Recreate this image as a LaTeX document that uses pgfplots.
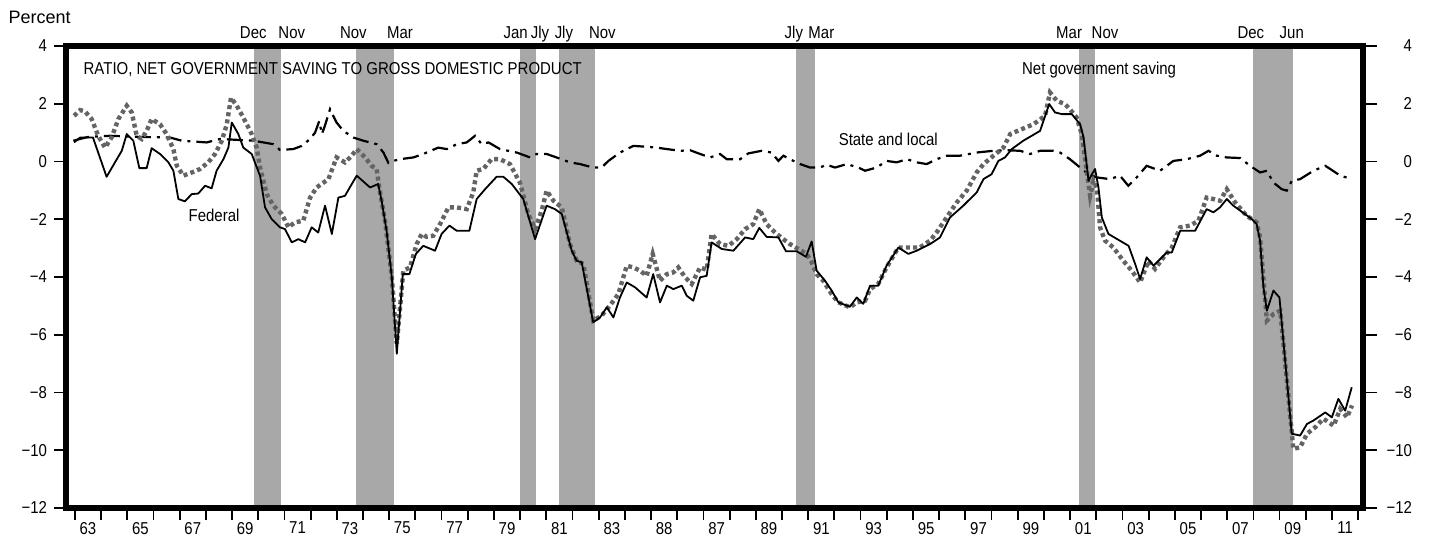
\documentclass[border=0pt]{standalone}
\usepackage{fontspec}
\setmainfont{Liberation Sans}[FakeStretch=0.87]
\newfontfamily\pctfont{Liberation Sans}
\usepackage{pgfplots}
\pgfplotsset{compat=1.18}
\definecolor{recgray}{RGB}{168,168,168}
\definecolor{netgray}{RGB}{100,100,100}
\newcommand\lf{\fontsize{8.6}{10}\selectfont}
\tikzset{month/.style={anchor=base, inner sep=0, font=\lf, yshift=3.8pt}}

% federal
\pgfplotstableread{
x y
1962.97 0.66
1963.20 0.83
1963.45 0.83
1963.69 0.83
1964.21 -0.53
1964.53 -0.03
1964.79 0.37
1964.98 0.95
1965.23 0.72
1965.46 -0.23
1965.74 -0.23
1965.93 0.46
1966.25 0.26
1966.57 -0.03
1966.76 -0.32
1966.95 -1.30
1967.20 -1.38
1967.46 -1.13
1967.71 -1.11
1967.97 -0.84
1968.22 -0.93
1968.41 -0.32
1968.67 0.08
1968.86 0.48
1968.99 1.35
1969.24 0.95
1969.43 0.48
1969.75 0.26
1970.07 -0.50
1970.26 -1.59
1970.51 -1.99
1970.83 -2.28
1971.02 -2.34
1971.28 -2.80
1971.53 -2.69
1971.79 -2.80
1972.04 -2.28
1972.29 -2.46
1972.55 -1.53
1972.81 -2.51
1973.06 -1.25
1973.31 -1.19
1973.76 -0.49
1974.27 -0.90
1974.58 -0.78
1974.71 -1.36
1974.90 -2.40
1975.10 -4.01
1975.29 -6.66
1975.52 -3.90
1975.77 -3.90
1976.02 -3.20
1976.30 -2.92
1976.75 -3.09
1977.00 -2.51
1977.30 -2.22
1977.58 -2.40
1978.06 -2.40
1978.34 -1.30
1978.66 -0.96
1979.10 -0.53
1979.36 -0.53
1979.68 -0.78
1980.12 -1.30
1980.57 -2.69
1981.01 -1.53
1981.33 -1.65
1981.59 -1.82
1981.97 -3.09
1982.16 -3.44
1982.35 -3.49
1982.79 -5.57
1983.05 -5.40
1983.31 -5.05
1983.56 -5.40
1983.81 -4.71
1984.07 -4.19
1984.39 -4.36
1984.83 -4.71
1985.08 -3.90
1985.34 -4.88
1985.60 -4.30
1985.85 -4.42
1986.17 -4.30
1986.36 -4.65
1986.61 -4.82
1986.87 -4.01
1987.12 -3.96
1987.31 -2.80
1987.70 -3.03
1988.14 -3.09
1988.59 -2.63
1988.90 -2.69
1989.13 -2.30
1989.41 -2.61
1989.86 -2.63
1990.15 -3.11
1990.56 -3.11
1990.91 -3.30
1991.13 -2.77
1991.32 -3.78
1991.64 -4.13
1991.90 -4.48
1992.15 -4.88
1992.59 -5.03
1992.85 -4.71
1993.10 -4.93
1993.36 -4.30
1993.67 -4.30
1993.99 -3.61
1994.44 -2.98
1994.82 -3.20
1995.14 -3.09
1995.65 -2.86
1996.03 -2.63
1996.41 -1.94
1996.92 -1.53
1997.43 -1.07
1997.69 -0.61
1998.00 -0.44
1998.26 0.02
1998.51 0.14
1998.77 0.43
1999.21 0.72
1999.85 1.06
2000.20 1.99
2000.42 1.70
2000.68 1.64
2001.06 1.64
2001.38 1.29
2001.51 0.83
2001.70 -0.67
2001.83 -0.44
2001.95 -0.26
2002.08 -0.90
2002.21 -1.94
2002.46 -2.51
2003.23 -2.92
2003.48 -3.55
2003.67 -4.07
2003.92 -3.32
2004.18 -3.61
2004.69 -3.15
2004.88 -3.15
2005.20 -2.40
2005.77 -2.40
2006.21 -1.65
2006.47 -1.76
2006.72 -1.59
2006.98 -1.30
2007.23 -1.53
2007.93 -1.99
2008.12 -2.17
2008.25 -2.74
2008.38 -4.36
2008.51 -5.17
2008.76 -4.47
2008.99 -4.71
2009.46 -9.43
2009.78 -9.49
2010.04 -9.09
2010.29 -8.97
2010.74 -8.69
2010.99 -8.86
2011.24 -8.22
2011.50 -8.63
2011.75 -7.82
}\federal

% net government saving
\pgfplotstableread{
x y
1962.97 1.58
1963.20 1.78
1963.39 1.73
1963.64 1.47
1963.89 0.89
1964.15 0.48
1964.40 0.83
1964.66 1.47
1964.98 1.93
1965.17 1.70
1965.36 0.89
1965.55 0.78
1965.74 1.06
1965.93 1.47
1966.25 1.29
1966.50 0.95
1966.76 0.43
1966.89 -0.15
1967.14 -0.49
1967.46 -0.38
1967.78 -0.26
1968.09 -0.03
1968.35 0.26
1968.61 0.72
1968.80 1.29
1968.96 2.21
1969.18 1.93
1969.43 1.52
1969.75 0.95
1969.94 0.48
1970.07 -0.21
1970.32 -1.13
1970.58 -1.53
1970.90 -1.82
1971.15 -2.28
1971.40 -2.11
1971.72 -2.05
1971.98 -1.25
1972.23 -0.90
1972.68 -0.61
1972.99 0.14
1973.31 -0.03
1973.57 0.20
1973.76 0.43
1974.08 0.14
1974.33 -0.15
1974.52 -0.26
1974.62 -0.90
1974.84 -2.05
1975.10 -4.01
1975.29 -6.32
1975.54 -3.78
1975.79 -3.67
1976.05 -2.86
1976.24 -2.51
1976.43 -2.61
1976.68 -2.57
1976.94 -2.17
1977.26 -1.59
1977.58 -1.59
1977.96 -1.65
1978.21 -1.07
1978.34 -0.32
1978.59 -0.26
1978.91 0.08
1979.23 0.08
1979.61 -0.09
1979.99 -0.73
1980.31 -1.82
1980.57 -2.34
1980.82 -1.71
1981.01 -1.01
1981.27 -1.36
1981.59 -1.59
1981.90 -2.86
1982.16 -3.44
1982.41 -3.55
1982.79 -5.51
1983.11 -5.34
1983.43 -4.99
1983.75 -4.59
1984.07 -3.61
1984.32 -3.67
1984.58 -3.78
1984.83 -3.96
1985.06 -3.20
1985.34 -4.13
1985.60 -3.90
1985.85 -3.84
1986.04 -3.67
1986.30 -4.01
1986.55 -4.24
1986.87 -3.67
1987.12 -3.75
1987.31 -2.51
1987.63 -2.86
1987.95 -2.92
1988.27 -2.69
1988.59 -2.34
1988.90 -2.17
1989.13 -1.65
1989.41 -2.17
1989.73 -2.46
1990.05 -2.69
1990.30 -2.86
1990.62 -3.03
1990.94 -3.20
1991.13 -3.49
1991.32 -3.90
1991.57 -4.13
1991.89 -4.59
1992.15 -4.88
1992.59 -5.05
1992.85 -4.88
1993.17 -4.82
1993.36 -4.42
1993.67 -4.24
1993.99 -3.67
1994.44 -2.98
1994.88 -2.98
1995.26 -2.98
1995.65 -2.74
1995.90 -2.46
1996.28 -1.94
1996.67 -1.42
1997.05 -1.01
1997.43 -0.38
1997.69 -0.09
1998.07 0.20
1998.45 0.48
1998.71 0.95
1999.15 1.12
1999.60 1.29
2000.04 1.58
2000.23 2.39
2000.49 2.10
2000.80 1.99
2000.99 1.81
2001.25 1.52
2001.44 0.95
2001.63 -0.32
2001.76 -1.19
2001.89 -0.67
2002.02 -0.90
2002.14 -2.28
2002.33 -2.74
2002.65 -2.98
2003.03 -3.44
2003.35 -3.78
2003.67 -4.19
2003.99 -3.44
2004.24 -3.72
2004.56 -3.32
2004.88 -2.98
2005.20 -2.28
2005.58 -2.22
2005.90 -2.05
2006.21 -1.25
2006.47 -1.30
2006.72 -1.36
2006.98 -0.96
2007.30 -1.42
2007.74 -1.88
2008.12 -2.11
2008.25 -2.63
2008.51 -5.51
2008.76 -5.28
2009.02 -5.17
2009.52 -9.95
2009.78 -9.90
2010.04 -9.43
2010.36 -9.20
2010.67 -8.91
2011.06 -9.15
2011.31 -8.57
2011.57 -8.86
2011.76 -8.45
}\netsaving

% state and local
\pgfplotstableread{
x y
1962.94 0.72
1963.50 0.85
1964.34 0.89
1965.50 0.85
1966.63 0.83
1967.08 0.72
1968.03 0.66
1968.54 0.78
1969.81 0.72
1970.58 0.60
1970.83 0.40
1971.34 0.43
1971.66 0.54
1971.98 0.78
1972.17 1.00
1972.33 1.40
1972.43 0.95
1972.55 1.25
1972.74 1.81
1972.99 1.35
1973.25 1.06
1973.63 0.83
1974.01 0.72
1974.52 0.60
1974.78 0.31
1974.97 -0.05
1975.16 0.02
1975.41 0.08
1975.92 0.14
1976.30 0.26
1976.87 0.48
1977.20 0.43
1977.58 0.60
1977.96 0.66
1978.28 0.89
1978.53 0.60
1978.79 0.66
1979.23 0.43
1979.87 0.31
1980.38 0.14
1980.63 0.26
1981.01 0.26
1981.39 0.14
1981.90 -0.03
1982.29 -0.09
1982.79 -0.21
1983.11 -0.21
1983.37 0.02
1983.81 0.31
1984.32 0.54
1984.83 0.51
1985.21 0.48
1985.60 0.43
1986.11 0.37
1986.49 0.39
1986.87 0.26
1987.25 0.14
1987.63 0.26
1987.89 0.08
1988.40 0.08
1988.71 0.28
1989.22 0.37
1989.60 0.31
1989.86 0.02
1990.05 0.20
1990.30 0.08
1990.69 -0.09
1991.07 -0.21
1991.45 -0.21
1991.70 -0.11
1992.02 -0.21
1992.47 -0.09
1992.91 -0.21
1993.17 -0.32
1993.61 -0.21
1993.99 0.02
1994.38 -0.03
1994.76 0.08
1995.14 -0.03
1995.52 -0.09
1995.90 0.08
1996.29 0.20
1996.79 0.20
1997.43 0.31
1998.06 0.37
1998.58 0.39
1999.09 0.37
1999.47 0.26
1999.85 0.37
2000.36 0.37
2000.61 0.31
2000.99 0.08
2001.38 -0.21
2001.69 -0.44
2002.01 -0.55
2002.52 -0.61
2002.90 -0.49
2003.22 -0.84
2003.54 -0.55
2003.92 -0.15
2004.43 -0.32
2004.94 0.02
2005.45 0.08
2005.96 0.20
2006.28 0.37
2006.60 0.20
2006.98 0.14
2007.49 0.12
2007.87 -0.15
2008.25 -0.38
2008.51 -0.32
2008.76 -0.73
2009.08 -0.96
2009.27 -1.01
2009.46 -0.67
2009.78 -0.61
2010.29 -0.32
2010.74 -0.15
2010.93 -0.26
2011.31 -0.49
2011.76 -0.61
}\stateloc

\begin{document}
\begin{tikzpicture}
\useasboundingbox (-33pt,-21pt) rectangle (685.5pt,254pt);
\begin{axis}[
  at={(0,0)}, anchor=south west,
  width=648.5pt, height=231pt, scale only axis,
  xmin=1962.66, xmax=2012.18, ymin=-12, ymax=4,
  axis on top, clip=false,
  axis line style={line width=2.6pt},
  tick align=outside,
  tick style={black, line width=0.9pt},
  major tick length=6pt,
  xtick={1963,...,2012},
  xticklabels={},
  extra x ticks={1963.5,1965.5,...,2011.5},
  extra x tick labels={63,65,67,69,71,73,75,77,79,81,83,88,87,89,91,93,95,97,99,01,03,05,07,09,11},
  extra x tick style={major tick length=0pt, xticklabel style={yshift=-3.5pt}},
  ytick={-12,-10,...,4},
  yticklabels={−12,−10,−8,−6,−4,−2,0,2,4},
  xtick pos=bottom, ytick pos=left,
  ticklabel style={font=\lf},
]
% recessions
\addplot[fill=recgray, draw=none, forget plot] coordinates {(1969.85,-12) (1969.85,4) (1970.87,4) (1970.87,-12)} -- cycle;
\addplot[fill=recgray, draw=none, forget plot] coordinates {(1973.75,-12) (1973.75,4) (1975.17,4) (1975.17,-12)} -- cycle;
\addplot[fill=recgray, draw=none, forget plot] coordinates {(1980.00,-12) (1980.00,4) (1980.62,4) (1980.62,-12)} -- cycle;
\addplot[fill=recgray, draw=none, forget plot] coordinates {(1981.47,-12) (1981.47,4) (1982.87,4) (1982.87,-12)} -- cycle;
\addplot[fill=recgray, draw=none, forget plot] coordinates {(1990.52,-12) (1990.52,4) (1991.24,4) (1991.24,-12)} -- cycle;
\addplot[fill=recgray, draw=none, forget plot] coordinates {(2001.35,-12) (2001.35,4) (2001.94,4) (2001.94,-12)} -- cycle;
\addplot[fill=recgray, draw=none, forget plot] coordinates {(2007.97,-12) (2007.97,4) (2009.52,4) (2009.52,-12)} -- cycle;

\addplot[black, line width=1.1pt, dash pattern=on 8pt off 3pt on 1.5pt off 3pt] table {\stateloc};
\addplot[netgray, line width=2.2pt, dash pattern=on 2pt off 1.6pt] table {\netsaving};
\addplot[black, line width=0.9pt, line join=round] table {\federal};

% labels in the plot
\node[anchor=base west, inner sep=0, font=\lf] at (axis cs:1963.32,3.03) {RATIO, NET GOVERNMENT SAVING TO GROSS DOMESTIC PRODUCT};
\node[anchor=base west, inner sep=0, font=\lf] at (axis cs:1999.15,3.0) {Net government saving};
\node[anchor=base west, inner sep=0, font=\lf] at (axis cs:1992.15,0.54) {State and local};
\node[anchor=base west, inner sep=0, font=\lf] at (axis cs:1967.33,-2.08) {Federal};
\node[anchor=base west, inner sep=0, font={\pctfont\fontsize{9}{10}\selectfont}, xshift=-28.9pt, yshift=11pt] at (rel axis cs:0,1) {Percent};

% months of recession turning points
\node[month] at (axis cs:1969.81,4) {Dec};
\node[month] at (axis cs:1971.28,4) {Nov};
\node[month] at (axis cs:1973.63,4) {Nov};
\node[month] at (axis cs:1975.41,4) {Mar};
\node[month] at (axis cs:1979.83,4) {Jan};
\node[month] at (axis cs:1980.76,4) {Jly};
\node[month] at (axis cs:1981.67,4) {Jly};
\node[month] at (axis cs:1983.14,4) {Nov};
\node[month] at (axis cs:1990.45,4) {Jly};
\node[month] at (axis cs:1991.50,4) {Mar};
\node[month] at (axis cs:2000.96,4) {Mar};
\node[month] at (axis cs:2002.33,4) {Nov};
\node[month] at (axis cs:2007.90,4) {Dec};
\node[month] at (axis cs:2009.46,4) {Jun};
\end{axis}
\begin{axis}[
  at={(0,0)}, anchor=south west,
  width=648.5pt, height=231pt, scale only axis,
  xmin=1962.66, xmax=2012.18, ymin=-12, ymax=4,
  axis x line=none, axis y line*=right,
  axis line style={line width=2.6pt},
  tick align=outside,
  tick style={black, line width=0.9pt},
  major tick length=7pt,
  ytick={-12,-10,...,4},
  yticklabels={−12,−10,−8,−6,−4,−2,0,2,4},
  yticklabel style={font=\lf, anchor=east, xshift=21pt},
]
\end{axis}
\end{tikzpicture}
\end{document}
